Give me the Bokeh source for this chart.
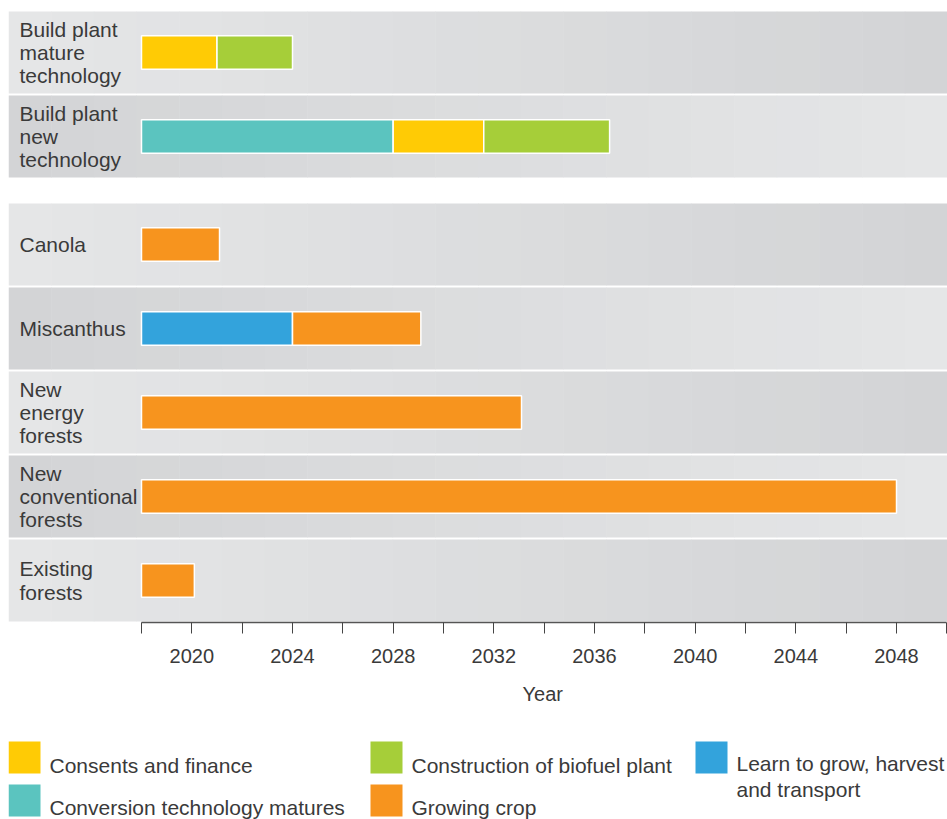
import numpy as np
from bokeh.plotting import figure
from bokeh.layouts import column
from bokeh.models import ColumnDataSource, Range1d, FixedTicker, Title
from bokeh.core.properties import value
from bokeh.embed import file_html
from bokeh.resources import INLINE

# ---------------- data ----------------
rows = ["Build plant\nmature\ntechnology", "Build plant\nnew\ntechnology", "Canola",
        "Miscanthus", "New\nenergy\nforests", "New\nconventional\nforests", "Existing\nforests"]

phases = ["Consents and finance", "Conversion technology matures",
          "Construction of biofuel plant", "Growing crop",
          "Learn to grow, harvest\nand transport"]
phase_colors = ["#FFCB05", "#5BC4BF", "#A6CE39", "#F7941E", "#33A3DC"]

seg_row = [0, 0, 1, 1, 1, 2, 3, 3, 4, 5, 6]
seg_phase = [0, 2, 1, 0, 2, 3, 4, 3, 3, 3, 3]
seg_start = [2018, 2021, 2018, 2028, 2031.6, 2018, 2018, 2024, 2018, 2018, 2018]
seg_end = [2021, 2024, 2028, 2031.6, 2036.6, 2021.1, 2024, 2029.1, 2033.1, 2048, 2020.1]

major_years = [2020, 2024, 2028, 2032, 2036, 2040, 2044, 2048]
minor_years = [2018, 2022, 2026, 2030, 2034, 2038, 2042, 2046, 2050]
axis_title = "Year"

# ---------------- layout ----------------
FONT = "Liberation Sans"
TXT = "#3a3a3a"
W = 947
LEFT = 8
FW = W - LEFT                  # frame width
PX = 755 / 30.0                # pixels per year
X0 = 2018 - 133 / PX
X1 = X0 + FW / PX
GAP = 24 / 84.14
Y_TOTAL = 7 + GAP
INSET = 1 / 84.14
BAR_H = 0.40

row_top = [i + (GAP if i >= 2 else 0) for i in range(len(rows))]
row_mid = [t + 0.5 for t in row_top]

p = figure(width=W, height=720, x_range=Range1d(X0, X1), y_range=Range1d(Y_TOTAL, 0),
           output_backend="svg", toolbar_location=None, y_axis_location=None,
           min_border_left=LEFT, min_border_right=0, min_border_top=10, min_border_bottom=97)
p.xgrid.visible = False
p.ygrid.visible = False
p.outline_line_color = None
p.background_fill_color = "white"
p.border_fill_color = "white"

# banded gradient row backgrounds
light = np.array([229, 230, 231])
dark = np.array([211, 212, 214])
NS = 22
edges = np.linspace(X0, X1, NS + 1)
bl, br, bt, bb, bc = [], [], [], [], []
for i, t in enumerate(row_top):
    for k in range(NS):
        f = k / (NS - 1)
        c = light + (dark - light) * f if i % 2 == 0 else dark + (light - dark) * f
        bl.append(edges[k]); br.append(edges[k + 1] + 0.02)
        bt.append(t + INSET); bb.append(t + 1 - INSET)
        bc.append("#%02x%02x%02x" % tuple(int(round(v)) for v in c))
p.quad(left=bl, right=br, top=bt, bottom=bb, fill_color=bc, line_color=None)

# bars
src = ColumnDataSource(dict(
    left=seg_start, right=seg_end,
    top=[row_mid[r] - BAR_H / 2 for r in seg_row],
    bottom=[row_mid[r] + BAR_H / 2 for r in seg_row],
    color=[phase_colors[k] for k in seg_phase]))
p.quad(left="left", right="right", top="top", bottom="bottom", source=src,
       fill_color="color", line_color="white", line_width=1.5)

# row labels
p.text(x=[X0 + 11 / PX] * len(rows), y=row_mid, text=rows,
       text_font=value(FONT), text_font_size="21px", text_color=TXT,
       text_align="left", text_baseline="middle", text_line_height=1.02)

# axis
ax = p.xaxis[0]
ax.ticker = FixedTicker(ticks=major_years, minor_ticks=minor_years)
ax.bounds = (2018, 2050)
ax.axis_line_color = "#555555"
ax.axis_line_width = 1.5
ax.major_tick_line_color = "#444444"
ax.minor_tick_line_color = "#444444"
ax.major_tick_in = 0
ax.minor_tick_in = 0
ax.major_tick_out = 11
ax.minor_tick_out = 11
ax.major_label_text_font = FONT
ax.major_label_text_font_size = "20px"
ax.major_label_text_color = TXT
ax.major_label_standoff = 15

# axis title, centred under the 2018-2050 span
p.add_layout(Title(text=axis_title, align="left", offset=514, standoff=31,
                   text_font=FONT, text_font_size="20px", text_font_style="normal",
                   text_color=TXT), "below")

# ---------------- legend ----------------
lg = figure(width=W, height=99, x_range=Range1d(LEFT, W), y_range=Range1d(99, 0),
            output_backend="svg", toolbar_location=None,
            x_axis_location=None, y_axis_location=None,
            min_border_left=LEFT, min_border_right=0, min_border_top=0, min_border_bottom=0)
lg.xgrid.visible = False
lg.ygrid.visible = False
lg.outline_line_color = None

sq_x = [8, 8, 370, 370, 695]
sq_y = [21, 64, 21, 64, 21]
txt_y = [45, 87, 45, 87, 56]
lg.quad(left=sq_x, right=[x + 32 for x in sq_x], top=sq_y, bottom=[y + 32 for y in sq_y],
        fill_color=phase_colors, line_color=None)
lg.text(x=[x + 41 for x in sq_x], y=txt_y, text=phases,
        text_font=value(FONT), text_font_size="21px", text_color=TXT,
        text_align="left", text_baseline="middle", text_line_height=1.1)

layout = column(p, lg, spacing=0)
open("out.html", "w").write(file_html(layout, INLINE))
